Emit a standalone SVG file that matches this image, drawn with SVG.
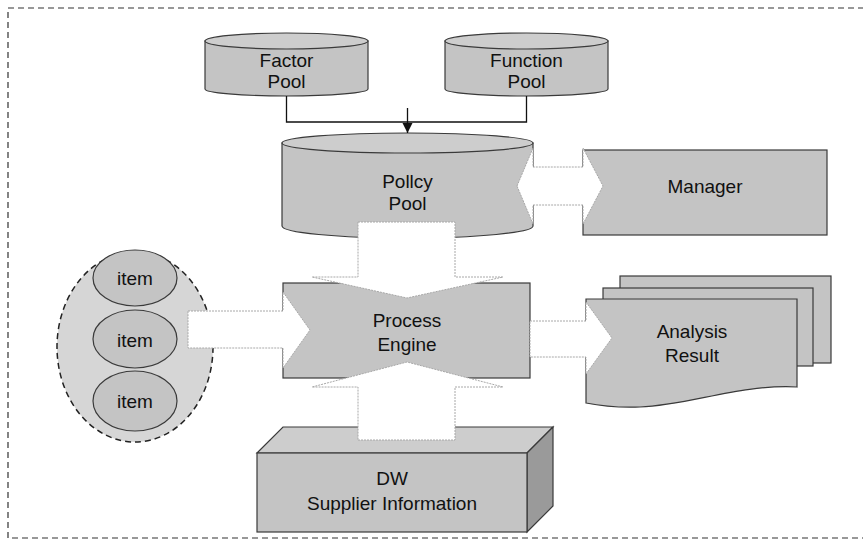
<svg xmlns="http://www.w3.org/2000/svg" width="863" height="548" viewBox="0 0 863 548">
<defs>
<style>
.shape{fill:#c4c4c4;stroke:#3a3a3a;stroke-width:1.2}
.top{fill:#cdcdcd;stroke:#3a3a3a;stroke-width:1.2}
.blk{fill:#ffffff;stroke:#a8a8a8;stroke-width:1;stroke-dasharray:2 1}
.t{font-family:"Liberation Sans",Arial,sans-serif;font-size:19px;fill:#111;text-anchor:middle}
.line{fill:none;stroke:#111;stroke-width:1.3}
</style>
<marker id="ah" markerWidth="12" markerHeight="12" refX="10" refY="5" orient="auto" markerUnits="userSpaceOnUse">
<path d="M0,0 L10,5 L0,10 Z" fill="#111"/>
</marker>
</defs>
<rect width="863" height="548" fill="#ffffff"/>
<path d="M864,8 H8 V538 H864" fill="none" stroke="#333" stroke-width="1.2" stroke-dasharray="6 4"/>

<g id="factor-pool">
<path class="shape" d="M205,41 V89 A81.5,7 0 0 0 368,89 V41 Z"/>
<ellipse class="top" cx="286.5" cy="41" rx="81.5" ry="8"/>
<text class="t" x="286.5" y="67">Factor</text>
<text class="t" x="286.5" y="88">Pool</text>
</g>

<g id="function-pool">
<path class="shape" d="M445,41 V89 A81.5,7 0 0 0 608,89 V41 Z"/>
<ellipse class="top" cx="526.5" cy="41" rx="81.5" ry="8"/>
<text class="t" x="526.5" y="67">Function</text>
<text class="t" x="526.5" y="88">Pool</text>
</g>

<g id="policy-pool">
<path class="shape" d="M282,143 V226 A125.5,12 0 0 0 533,226 V143 Z"/>
<ellipse class="top" cx="407.5" cy="143" rx="125.5" ry="10"/>
<text class="t" x="407.5" y="188">Pollcy</text>
<text class="t" x="407.5" y="210">Pool</text>
</g>

<g id="manager">
<rect class="shape" x="583" y="150" width="244" height="85"/>
<text class="t" x="705" y="193">Manager</text>
</g>

<g id="process-engine">
<rect class="shape" x="283" y="283" width="247" height="95"/>
<text class="t" x="407" y="327">Process</text>
<text class="t" x="407" y="351">Engine</text>
</g>

<g id="analysis-result">
<rect class="shape" x="620" y="276" width="211" height="87"/>
<rect class="shape" x="603" y="288" width="210" height="78"/>
<path class="shape" d="M586,299 H797 V387 C740,384 690,405 640,407 C612,408 596,405 586,403 Z"/>
<text class="t" x="692" y="338">Analysis</text>
<text class="t" x="692" y="362">Result</text>
</g>

<g id="items">
<ellipse cx="135" cy="347" rx="78" ry="95" fill="#d6d6d6" stroke="#222" stroke-width="1.5" stroke-dasharray="6 4"/>
<ellipse class="shape" cx="135" cy="278" rx="42" ry="28"/>
<ellipse class="shape" cx="135" cy="339" rx="42" ry="29"/>
<ellipse class="shape" cx="135" cy="401" rx="42" ry="30"/>
<text class="t" x="135" y="285">item</text>
<text class="t" x="135" y="347">item</text>
<text class="t" x="135" y="408">item</text>
</g>

<g id="dw">
<path d="M257,453 L283,427 H553 L527,453 Z" fill="#cdcdcd" stroke="#3a3a3a" stroke-width="1.2"/>
<path d="M527,453 L553,427 V506 L527,532 Z" fill="#9a9a9a" stroke="#3a3a3a" stroke-width="1.2"/>
<rect class="shape" x="257" y="453" width="270" height="79"/>
<text class="t" x="392" y="485">DW</text>
<text class="t" x="392" y="510">Supplier Information</text>
</g>

<g id="connectors">
<path class="line" d="M286.5,96 V122 H526.5 V96"/>
<path class="line" d="M407.5,108 V133" marker-end="url(#ah)"/>
<path class="blk" d="M517,186 L533,148 V167 H583 V148 L603,186 L583,224 V205 H533 V224 Z"/>
<path class="blk" d="M358,222 H455 V277 H503 L407,298 L312,277 H358 Z"/>
<path class="blk" d="M358,440 H455 V387 H503 L407,362 L312,387 H358 Z"/>
<path class="blk" d="M188,311 H283 V292 L310,330 L283,368 V348 H188 Z"/>
<path class="blk" d="M530,321 H586 V302 L612,338 L586,374 V357 H530 Z"/>
</g>
</svg>
